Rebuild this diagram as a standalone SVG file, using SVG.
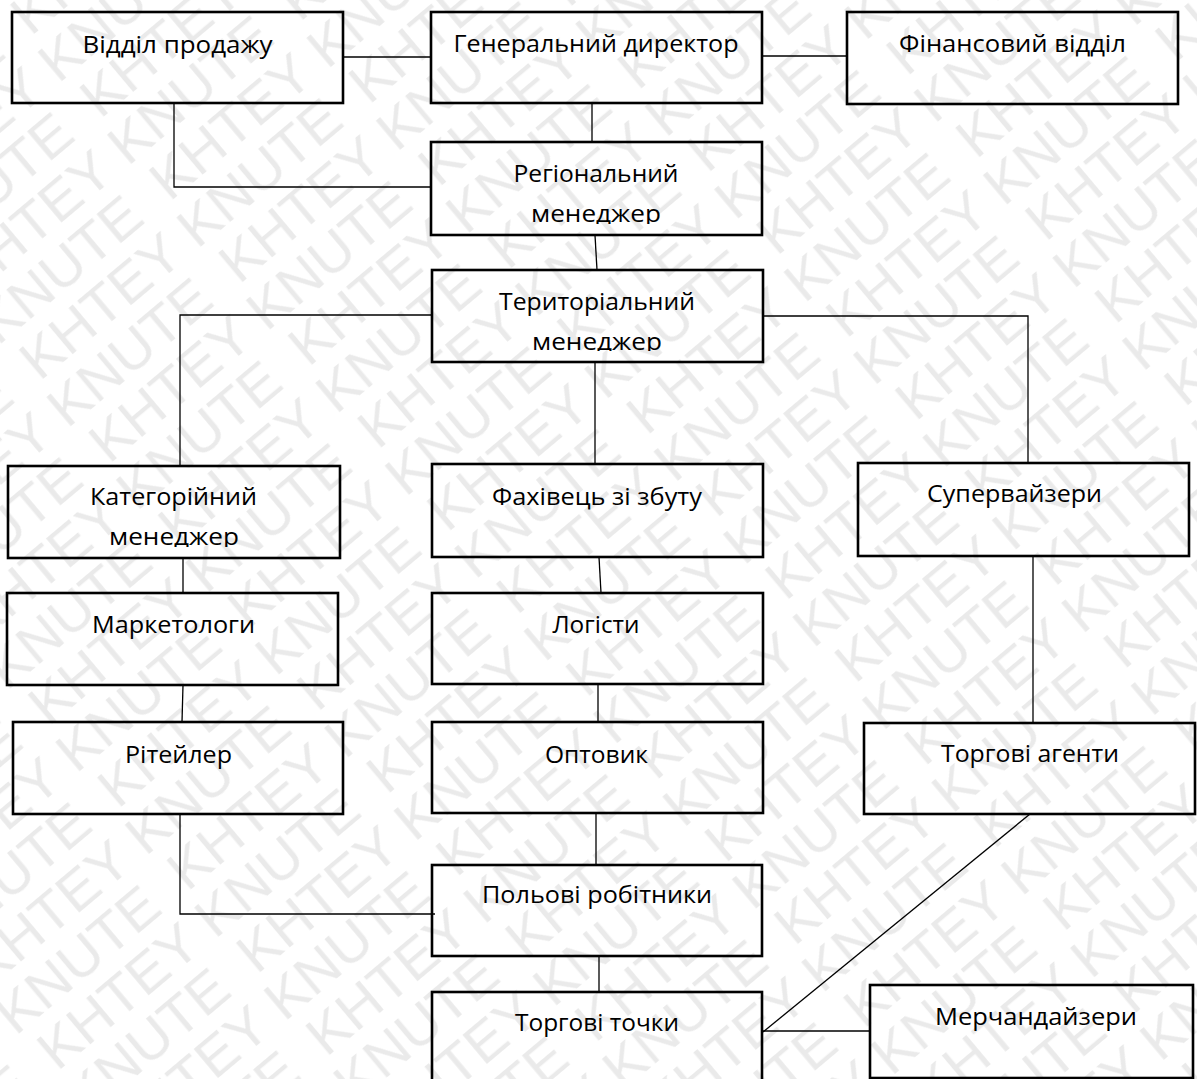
<svg xmlns="http://www.w3.org/2000/svg" width="1197" height="1079" viewBox="0 0 1197 1079">
<style>
.box{fill:none;stroke:#000;stroke-width:2.6}
.lbl{font-family:"Open Sans","Noto Sans","DejaVu Sans",sans-serif;font-size:24px;fill:#000;text-anchor:middle}
.wm{font-family:"Liberation Sans",Arial,sans-serif;font-size:56px;fill:#eaeaea}
#connectors line,#connectors polyline{fill:none;stroke:#000;stroke-width:1.3}
</style>
<defs>
<pattern id="wmPat" patternUnits="userSpaceOnUse" width="430" height="108" patternTransform="rotate(-40)">
<text class="wm" x="0" y="48" textLength="400" lengthAdjust="spacingAndGlyphs">KHTEY KNUTE</text>
<text class="wm" x="215" y="102" textLength="400" lengthAdjust="spacingAndGlyphs">KHTEY KNUTE</text>
<text class="wm" x="-215" y="102" textLength="400" lengthAdjust="spacingAndGlyphs">KHTEY KNUTE</text>
</pattern>
<clipPath id="clipReg"><rect x="431" y="142" width="331" height="82"/></clipPath>
<clipPath id="clipTerr"><rect x="432" y="270" width="331" height="81"/></clipPath>
<clipPath id="clipCat"><rect x="8" y="466" width="332" height="81"/></clipPath>
</defs>
<rect x="0" y="0" width="1197" height="1079" fill="#fff"/>
<rect id="watermark" x="0" y="0" width="1197" height="1079" fill="url(#wmPat)"/>

<g id="connectors">
<line x1="343" y1="57" x2="431" y2="57"/>
<line x1="762" y1="56" x2="847" y2="56"/>
<line x1="592" y1="103" x2="592" y2="142"/>
<polyline points="174,103 174,187 431,187"/>
<line x1="595" y1="235" x2="597" y2="270"/>
<polyline points="432,315 180,315 180,466"/>
<polyline points="763,316 1028,316 1028,463"/>
<line x1="595" y1="362" x2="595" y2="464"/>
<line x1="183" y1="558" x2="183" y2="593"/>
<line x1="183" y1="685" x2="182" y2="722"/>
<line x1="599" y1="557" x2="601" y2="593"/>
<line x1="598" y1="684" x2="598" y2="722"/>
<line x1="596" y1="813" x2="596" y2="865"/>
<polyline points="180,814 180,914 435,914"/>
<line x1="599" y1="956" x2="599" y2="992"/>
<line x1="1033" y1="556" x2="1033" y2="723"/>
<line x1="1030" y1="814" x2="763" y2="1032"/>
<line x1="762" y1="1031" x2="870" y2="1031"/>
</g>

<g id="sales"><rect class="box" x="12" y="12" width="331" height="91"/><text class="lbl" x="177.5" y="53" textLength="190" lengthAdjust="spacingAndGlyphs">Відділ продажу</text></g>
<g id="gd"><rect class="box" x="431" y="12" width="331" height="91"/><text class="lbl" x="596" y="52" textLength="285" lengthAdjust="spacingAndGlyphs">Генеральний директор</text></g>
<g id="fin"><rect class="box" x="847" y="12" width="331" height="92"/><text class="lbl" x="1012.5" y="52" textLength="227" lengthAdjust="spacingAndGlyphs">Фінансовий відділ</text></g>
<g id="reg"><rect class="box" x="431" y="142" width="331" height="93"/><g clip-path="url(#clipReg)"><text class="lbl" x="596" y="182" textLength="165" lengthAdjust="spacingAndGlyphs">Регіональний</text><text class="lbl" x="596" y="222" textLength="130" lengthAdjust="spacingAndGlyphs">менеджер</text></g></g>
<g id="terr"><rect class="box" x="432" y="270" width="331" height="92"/><g clip-path="url(#clipTerr)"><text class="lbl" x="597" y="310" textLength="196" lengthAdjust="spacingAndGlyphs">Територіальний</text><text class="lbl" x="597" y="350" textLength="130" lengthAdjust="spacingAndGlyphs">менеджер</text></g></g>
<g id="cat"><rect class="box" x="8" y="466" width="332" height="92"/><g clip-path="url(#clipCat)"><text class="lbl" x="173.5" y="505" textLength="167" lengthAdjust="spacingAndGlyphs">Категорійний</text><text class="lbl" x="174" y="545" textLength="130" lengthAdjust="spacingAndGlyphs">менеджер</text></g></g>
<g id="fah"><rect class="box" x="432" y="464" width="331" height="93"/><text class="lbl" x="597" y="505" textLength="210" lengthAdjust="spacingAndGlyphs">Фахівець зі збуту</text></g>
<g id="sup"><rect class="box" x="858" y="463" width="331" height="93"/><text class="lbl" x="1014.5" y="502" textLength="175" lengthAdjust="spacingAndGlyphs">Супервайзери</text></g>
<g id="mark"><rect class="box" x="7" y="593" width="331" height="92"/><text class="lbl" x="173.5" y="633" textLength="163" lengthAdjust="spacingAndGlyphs">Маркетологи</text></g>
<g id="log"><rect class="box" x="432" y="593" width="331" height="91"/><text class="lbl" x="596" y="633" textLength="87" lengthAdjust="spacingAndGlyphs">Логісти</text></g>
<g id="ret"><rect class="box" x="13" y="722" width="330" height="92"/><text class="lbl" x="178.5" y="763" textLength="107" lengthAdjust="spacingAndGlyphs">Рітейлер</text></g>
<g id="opt"><rect class="box" x="432" y="722" width="331" height="91"/><text class="lbl" x="596.5" y="763" textLength="103" lengthAdjust="spacingAndGlyphs">Оптовик</text></g>
<g id="ta"><rect class="box" x="864" y="723" width="331" height="91"/><text class="lbl" x="1030" y="762" textLength="178" lengthAdjust="spacingAndGlyphs">Торгові агенти</text></g>
<g id="pol"><rect class="box" x="432" y="865" width="330" height="91"/><text class="lbl" x="597" y="903" textLength="230" lengthAdjust="spacingAndGlyphs">Польові робітники</text></g>
<g id="tt"><rect class="box" x="432" y="992" width="330" height="100"/><text class="lbl" x="597" y="1031" textLength="164" lengthAdjust="spacingAndGlyphs">Торгові точки</text></g>
<g id="merch"><rect class="box" x="870" y="985" width="323" height="93"/><text class="lbl" x="1036" y="1025" textLength="202" lengthAdjust="spacingAndGlyphs">Мерчандайзери</text></g>
</svg>
